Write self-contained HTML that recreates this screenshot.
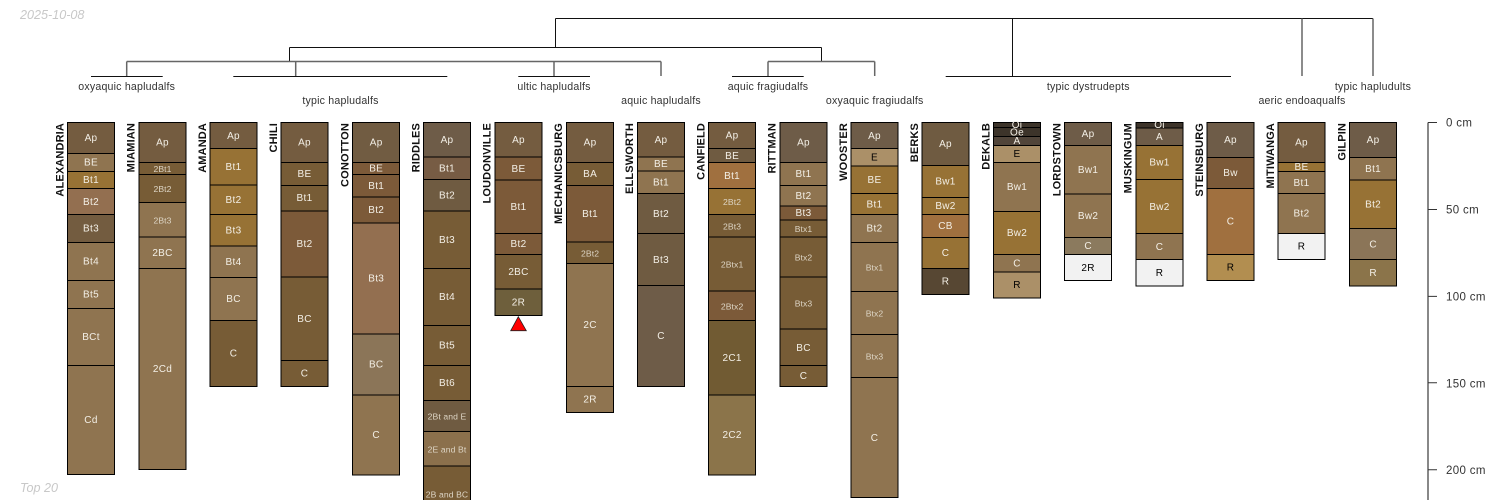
<!DOCTYPE html>
<html><head><meta charset="utf-8"><style>
html,body{margin:0;padding:0;background:#fff;width:1500px;height:500px;overflow:hidden}
svg{display:block;font-family:"Liberation Sans",sans-serif}
.p rect{stroke:#000;stroke-width:1;shape-rendering:crispEdges}
.p text{font-size:10px;letter-spacing:.3px;fill:#f3efe6;text-anchor:middle;dominant-baseline:central;transform:translateY(.7px)}
.p text.s{font-size:8.6px;letter-spacing:.1px;fill:#ddd5c5}
.p text.k{fill:#000}
.n{font-size:11px;font-weight:bold;fill:#111;text-anchor:end;letter-spacing:.15px}
.d{font-size:10.6px;letter-spacing:.2px;fill:#333;text-anchor:middle}
.a{font-size:11.5px;letter-spacing:.35px;fill:#333}
.i{font-size:12.6px;font-style:italic;fill:#c8c8c8}
.l{stroke:#111;stroke-width:1;fill:none}
.g{stroke:#666;stroke-width:1.5;fill:none}
</style></head><body>
<svg width="1500" height="500" viewBox="0 0 1500 500" xmlns="http://www.w3.org/2000/svg">
<text class="i" x="20" y="19">2025-10-08</text>
<text class="i" x="20" y="492">Top 20</text>

<path class="l" d="M555.5 18.5H1373M555.5 18.5V47M1012.5 18.5V76M289.5 47.5H821.5M289.5 47.5V61M821.5 47.5V61M91 76.5H162.7M233.3 76.5H447.3M518.3 76.5H590M732 76.5H803.7M945.7 76.5H1231"/>
<path class="g" d="M126.7 61.5H661M126.7 61.5V76M295.7 61.5V76M554 61.5V76M661 61.5V76M768 61.5H874.7M768 61.5V76M874.7 61.5V76M1302 18.5V76M1373 18.5V76"/>

<text class="d" x="126.7" y="90">oxyaquic hapludalfs</text>
<text class="d" x="340.5" y="104">typic hapludalfs</text>
<text class="d" x="554" y="90">ultic hapludalfs</text>
<text class="d" x="661" y="104">aquic hapludalfs</text>
<text class="d" x="768" y="90">aquic fragiudalfs</text>
<text class="d" x="874.7" y="104">oxyaquic fragiudalfs</text>
<text class="d" x="1088.3" y="90">typic dystrudepts</text>
<text class="d" x="1302" y="104">aeric endoaqualfs</text>
<text class="d" x="1373" y="90">typic hapludults</text>

<g class="p" transform="translate(67.5 0)">
<rect width="47" y="122.5" height="31.2" fill="#745c40"/><rect width="47" y="153.7" height="17.6" fill="#8f7450"/><rect width="47" y="171.3" height="17.4" fill="#977235"/><rect width="47" y="188.7" height="26" fill="#936f50"/><rect width="47" y="214.7" height="27.6" fill="#735c40"/><rect width="47" y="242.3" height="38.4" fill="#8f7450"/><rect width="47" y="280.7" height="27.6" fill="#8f7450"/><rect width="47" y="308.3" height="57" fill="#8f7450"/><rect width="47" y="365.3" height="109.4" fill="#8f7450"/>
<text x="23.5" y="138">Ap</text><text x="23.5" y="162.5">BE</text><text x="23.5" y="180">Bt1</text><text x="23.5" y="201.7">Bt2</text><text x="23.5" y="228.5">Bt3</text><text x="23.5" y="261.5">Bt4</text><text x="23.5" y="294.5">Bt5</text><text x="23.5" y="336.8">BCt</text><text x="23.5" y="420">Cd</text>
</g>
<g class="p" transform="translate(139 0)">
<rect width="47" y="122.5" height="39.8" fill="#745c40"/><rect width="47" y="162.3" height="12.4" fill="#775c36"/><rect width="47" y="174.7" height="27.6" fill="#775c36"/><rect width="47" y="202.3" height="34.7" fill="#8f7450"/><rect width="47" y="237" height="31.3" fill="#8f7450"/><rect width="47" y="268.3" height="201.4" fill="#8f7450"/>
<text x="23.5" y="142.4">Ap</text><text class="s" x="23.5" y="168.5">2Bt1</text><text class="s" x="23.5" y="188.5">2Bt2</text><text class="s" x="23.5" y="219.6">2Bt3</text><text x="23.5" y="252.6">2BC</text><text x="23.5" y="369">2Cd</text>
</g>
<g class="p" transform="translate(210 0)">
<rect width="47" y="122.5" height="26.2" fill="#745c40"/><rect width="47" y="148.7" height="36.3" fill="#977235"/><rect width="47" y="185" height="29.7" fill="#977235"/><rect width="47" y="214.7" height="31.3" fill="#977235"/><rect width="47" y="246" height="31.3" fill="#8f7450"/><rect width="47" y="277.3" height="43" fill="#8f7450"/><rect width="47" y="320.3" height="66" fill="#775c36"/>
<text x="23.5" y="135.6">Ap</text><text x="23.5" y="166.8">Bt1</text><text x="23.5" y="199.8">Bt2</text><text x="23.5" y="230.3">Bt3</text><text x="23.5" y="261.6">Bt4</text><text x="23.5" y="298.8">BC</text><text x="23.5" y="353.3">C</text>
</g>
<g class="p" transform="translate(281 0)">
<rect width="47" y="122.5" height="39.8" fill="#745c40"/><rect width="47" y="162.3" height="23" fill="#775c36"/><rect width="47" y="185.3" height="25.7" fill="#775c36"/><rect width="47" y="211" height="66" fill="#7c5a39"/><rect width="47" y="277" height="83.3" fill="#775c36"/><rect width="47" y="360.3" height="26" fill="#775c36"/>
<text x="23.5" y="142.4">Ap</text><text x="23.5" y="173.8">BE</text><text x="23.5" y="198">Bt1</text><text x="23.5" y="244">Bt2</text><text x="23.5" y="318.6">BC</text><text x="23.5" y="373.3">C</text>
</g>
<g class="p" transform="translate(352.7 0)">
<rect width="47" y="122.5" height="39.8" fill="#715c42"/><rect width="47" y="162.3" height="12" fill="#7c5a39"/><rect width="47" y="174.3" height="22.7" fill="#7c5a39"/><rect width="47" y="197" height="26" fill="#7c5a39"/><rect width="47" y="223" height="111" fill="#936f50"/><rect width="47" y="334" height="61" fill="#8b7558"/><rect width="47" y="395" height="80" fill="#8f7450"/>
<text x="23.5" y="142.4">Ap</text><text x="23.5" y="168.3">BE</text><text x="23.5" y="185.6">Bt1</text><text x="23.5" y="210">Bt2</text><text x="23.5" y="278.5">Bt3</text><text x="23.5" y="364.5">BC</text><text x="23.5" y="435">C</text>
</g>
<g class="p" transform="translate(423.5 0)">
<rect width="47" y="122.5" height="34.5" fill="#6e5c48"/><rect width="47" y="157" height="22.7" fill="#775c44"/><rect width="47" y="179.7" height="31.3" fill="#6f5b41"/><rect width="47" y="211" height="57.3" fill="#775c36"/><rect width="47" y="268.3" height="57" fill="#775c36"/><rect width="47" y="325.3" height="40" fill="#775c36"/><rect width="47" y="365.3" height="35" fill="#775c36"/><rect width="47" y="400.3" height="31.4" fill="#6f5b41"/><rect width="47" y="431.7" height="34.3" fill="#8b704c"/><rect width="47" y="466" height="44" fill="#775c36"/>
<text x="23.5" y="140">Ap</text><text x="23.5" y="168.3">Bt1</text><text x="23.5" y="195.3">Bt2</text><text x="23.5" y="239.6">Bt3</text><text x="23.5" y="297">Bt4</text><text x="23.5" y="345.3">Bt5</text><text x="23.5" y="382.8">Bt6</text><text class="s" x="23.5" y="416">2Bt and E</text><text class="s" x="23.5" y="449">2E and Bt</text><text class="s" x="23.5" y="493.7">2B and BC</text>
</g>
<g class="p" transform="translate(495 0)">
<rect width="47" y="122.5" height="34.5" fill="#745c40"/><rect width="47" y="157" height="23" fill="#7c5a39"/><rect width="47" y="180" height="53.3" fill="#7c5a39"/><rect width="47" y="233.3" height="21" fill="#7c5a39"/><rect width="47" y="254.3" height="34.7" fill="#775c36"/><rect width="47" y="289" height="26.3" fill="#6e5f3c"/>
<text x="23.5" y="140">Ap</text><text x="23.5" y="168.8">BE</text><text x="23.5" y="206.8">Bt1</text><text x="23.5" y="244">Bt2</text><text x="23.5" y="271.8">2BC</text><text x="23.5" y="302.3">2R</text>
</g>
<polygon points="518.3,316.7 526.3,330.7 510.7,330.7" fill="#f00" stroke="#222" stroke-width="0.8"/>
<g class="p" transform="translate(566.6 0)">
<rect width="47" y="122.5" height="39.8" fill="#745c40"/><rect width="47" y="162.3" height="23" fill="#775c36"/><rect width="47" y="185.3" height="56.7" fill="#7c5a39"/><rect width="47" y="242" height="21.3" fill="#775c36"/><rect width="47" y="263.3" height="123" fill="#8f7450"/><rect width="47" y="386.3" height="26" fill="#8f7450"/>
<text x="23.5" y="142.4">Ap</text><text x="23.5" y="173.8">BA</text><text x="23.5" y="213.6">Bt1</text><text class="s" x="23.5" y="252.6">2Bt2</text><text x="23.5" y="324.8">2C</text><text x="23.5" y="399.3">2R</text>
</g>
<g class="p" transform="translate(637.5 0)">
<rect width="47" y="122.5" height="34.5" fill="#745c40"/><rect width="47" y="157" height="14" fill="#8f7450"/><rect width="47" y="171" height="22.7" fill="#8f7450"/><rect width="47" y="193.7" height="40" fill="#6f5b41"/><rect width="47" y="233.7" height="52" fill="#6f5b41"/><rect width="47" y="285.7" height="100.6" fill="#6e5c48"/>
<text x="23.5" y="140">Ap</text><text x="23.5" y="164">BE</text><text x="23.5" y="182.4">Bt1</text><text x="23.5" y="213.7">Bt2</text><text x="23.5" y="259.7">Bt3</text><text x="23.5" y="336">C</text>
</g>
<g class="p" transform="translate(708.6 0)">
<rect width="47" y="122.5" height="25.8" fill="#745c40"/><rect width="47" y="148.3" height="14" fill="#6f5b41"/><rect width="47" y="162.3" height="26" fill="#a0703f"/><rect width="47" y="188.3" height="26" fill="#977235"/><rect width="47" y="214.3" height="22.7" fill="#775c36"/><rect width="47" y="237" height="54" fill="#775c36"/><rect width="47" y="291" height="29.3" fill="#7c5a39"/><rect width="47" y="320.3" height="74.7" fill="#715b33"/><rect width="47" y="395" height="80" fill="#8b744a"/>
<text x="23.5" y="135.4">Ap</text><text x="23.5" y="155.8">BE</text><text x="23.5" y="175.8">Bt1</text><text class="s" x="23.5" y="201.3">2Bt2</text><text class="s" x="23.5" y="225.6">2Bt3</text><text class="s" x="23.5" y="264">2Btx1</text><text class="s" x="23.5" y="305.6">2Btx2</text><text x="23.5" y="358">2C1</text><text x="23.5" y="435">2C2</text>
</g>
<g class="p" transform="translate(780 0)">
<rect width="47" y="122.5" height="39.8" fill="#6e5c48"/><rect width="47" y="162.3" height="23" fill="#8f7450"/><rect width="47" y="185.3" height="20.7" fill="#8f7450"/><rect width="47" y="206" height="14" fill="#7c5a39"/><rect width="47" y="220" height="17" fill="#775c36"/><rect width="47" y="237" height="40" fill="#775c36"/><rect width="47" y="277" height="52" fill="#775c36"/><rect width="47" y="329" height="36.3" fill="#775c36"/><rect width="47" y="365.3" height="21" fill="#775c36"/>
<text x="23.5" y="142.4">Ap</text><text x="23.5" y="173.8">Bt1</text><text x="23.5" y="195.6">Bt2</text><text x="23.5" y="213">Bt3</text><text class="s" x="23.5" y="228.5">Btx1</text><text class="s" x="23.5" y="257">Btx2</text><text class="s" x="23.5" y="303">Btx3</text><text x="23.5" y="347.6">BC</text><text x="23.5" y="375.8">C</text>
</g>
<g class="p" transform="translate(851 0)">
<rect width="47" y="122.5" height="26.2" fill="#6e5c48"/><rect width="47" y="148.7" height="17.3" fill="#ab9068"/><rect width="47" y="166" height="27.7" fill="#977235"/><rect width="47" y="193.7" height="21" fill="#977235"/><rect width="47" y="214.7" height="27.6" fill="#8f7450"/><rect width="47" y="242.3" height="49" fill="#8f7450"/><rect width="47" y="291.3" height="43" fill="#8f7450"/><rect width="47" y="334.3" height="43.4" fill="#8f7450"/><rect width="47" y="377.7" height="120" fill="#8f7450"/>
<text x="23.5" y="135.6">Ap</text><text class="k" x="23.5" y="157.3">E</text><text x="23.5" y="179.8">BE</text><text x="23.5" y="204.2">Bt1</text><text x="23.5" y="228.5">Bt2</text><text class="s" x="23.5" y="266.8">Btx1</text><text class="s" x="23.5" y="312.8">Btx2</text><text class="s" x="23.5" y="356">Btx3</text><text x="23.5" y="437.7">C</text>
</g>
<g class="p" transform="translate(922 0)">
<rect width="47" y="122.3" height="43.4" fill="#6f5b41"/><rect width="47" y="165.7" height="31.6" fill="#977235"/><rect width="47" y="197.3" height="17.4" fill="#977235"/><rect width="47" y="214.7" height="22.6" fill="#a0703f"/><rect width="47" y="237.3" height="31" fill="#977235"/><rect width="47" y="268.3" height="26" fill="#574733"/>
<text x="23.5" y="144">Ap</text><text x="23.5" y="181.5">Bw1</text><text x="23.5" y="206">Bw2</text><text x="23.5" y="226">CB</text><text x="23.5" y="252.8">C</text><text x="23.5" y="281.3">R</text>
</g>
<g class="p" transform="translate(993.5 0)">
<rect width="47" y="122.3" height="5.4" fill="#3d342a"/><rect width="47" y="127.7" height="9" fill="#3d342a"/><rect width="47" y="136.7" height="8.6" fill="#51453a"/><rect width="47" y="145.3" height="17" fill="#ab9068"/><rect width="47" y="162.3" height="49" fill="#8f7450"/><rect width="47" y="211.3" height="43.4" fill="#977235"/><rect width="47" y="254.7" height="17.3" fill="#8f7450"/><rect width="47" y="272" height="26" fill="#ab9068"/>
<text x="23.5" y="125">Oi</text><text x="23.5" y="132.2">Oe</text><text x="23.5" y="141">A</text><text class="k" x="23.5" y="153.8">E</text><text x="23.5" y="186.8">Bw1</text><text x="23.5" y="233">Bw2</text><text x="23.5" y="263.3">C</text><text class="k" x="23.5" y="285">R</text>
</g>
<g class="p" transform="translate(1064.6 0)">
<rect width="47" y="122.3" height="23" fill="#6e5c48"/><rect width="47" y="145.3" height="48.7" fill="#8f7450"/><rect width="47" y="194" height="43.3" fill="#8f7450"/><rect width="47" y="237.3" height="17.4" fill="#8b7a5e"/><rect width="47" y="254.7" height="26" fill="#f2f2f2"/>
<text x="23.5" y="134">Ap</text><text x="23.5" y="169.7">Bw1</text><text x="23.5" y="215.7">Bw2</text><text x="23.5" y="246">C</text><text class="k" x="23.5" y="267.7">2R</text>
</g>
<g class="p" transform="translate(1136 0)">
<rect width="47" y="122.3" height="5.7" fill="#3d342a"/><rect width="47" y="128" height="17.3" fill="#6e5c48"/><rect width="47" y="145.3" height="34.4" fill="#977235"/><rect width="47" y="179.7" height="54" fill="#977235"/><rect width="47" y="233.7" height="26" fill="#8f7450"/><rect width="47" y="259.7" height="26.3" fill="#f2f2f2"/>
<text x="23.5" y="125">Oi</text><text x="23.5" y="136.7">A</text><text x="23.5" y="162.5">Bw1</text><text x="23.5" y="206.7">Bw2</text><text x="23.5" y="246.7">C</text><text class="k" x="23.5" y="272.8">R</text>
</g>
<g class="p" transform="translate(1207 0)">
<rect width="47" y="122.3" height="35" fill="#6e5c48"/><rect width="47" y="157.3" height="31" fill="#7c5a39"/><rect width="47" y="188.3" height="66" fill="#a0703f"/><rect width="47" y="254.3" height="26" fill="#b28e50"/>
<text x="23.5" y="140">Ap</text><text x="23.5" y="173">Bw</text><text x="23.5" y="221.3">C</text><text class="k" x="23.5" y="267.3">R</text>
</g>
<g class="p" transform="translate(1278 0)">
<rect width="47" y="122.3" height="40" fill="#745c40"/><rect width="47" y="162.3" height="9" fill="#977235"/><rect width="47" y="171.3" height="22.4" fill="#8f7450"/><rect width="47" y="193.7" height="39.6" fill="#8f7450"/><rect width="47" y="233.3" height="26.4" fill="#f2f2f2"/>
<text x="23.5" y="142.3">Ap</text><text x="23.5" y="167">BE</text><text x="23.5" y="183">Bt1</text><text x="23.5" y="213.5">Bt2</text><text class="k" x="23.5" y="246.5">R</text>
</g>
<g class="p" transform="translate(1349.6 0)">
<rect width="47" y="122.3" height="35" fill="#6e5c48"/><rect width="47" y="157.3" height="22.7" fill="#8f7450"/><rect width="47" y="180" height="48.7" fill="#977235"/><rect width="47" y="228.7" height="31" fill="#8b7558"/><rect width="47" y="259.7" height="26.3" fill="#8b744a"/>
<text x="23.5" y="140">Ap</text><text x="23.5" y="168.6">Bt1</text><text x="23.5" y="204.3">Bt2</text><text x="23.5" y="244.2">C</text><text x="23.5" y="272.8">R</text>
</g>

<text class="n" transform="translate(63.5 123) rotate(-90)">ALEXANDRIA</text>
<text class="n" transform="translate(134.7 123) rotate(-90)">MIAMIAN</text>
<text class="n" transform="translate(205.9 123) rotate(-90)">AMANDA</text>
<text class="n" transform="translate(277 123) rotate(-90)">CHILI</text>
<text class="n" transform="translate(348.3 123) rotate(-90)">CONOTTON</text>
<text class="n" transform="translate(419.5 123) rotate(-90)">RIDDLES</text>
<text class="n" transform="translate(490.7 123) rotate(-90)">LOUDONVILLE</text>
<text class="n" transform="translate(562 123) rotate(-90)">MECHANICSBURG</text>
<text class="n" transform="translate(633.2 123) rotate(-90)">ELLSWORTH</text>
<text class="n" transform="translate(704.4 123) rotate(-90)">CANFIELD</text>
<text class="n" transform="translate(775.6 123) rotate(-90)">RITTMAN</text>
<text class="n" transform="translate(846.8 123) rotate(-90)">WOOSTER</text>
<text class="n" transform="translate(918 123) rotate(-90)">BERKS</text>
<text class="n" transform="translate(989.3 123) rotate(-90)">DEKALB</text>
<text class="n" transform="translate(1060.5 123) rotate(-90)">LORDSTOWN</text>
<text class="n" transform="translate(1131.7 123) rotate(-90)">MUSKINGUM</text>
<text class="n" transform="translate(1203 123) rotate(-90)">STEINSBURG</text>
<text class="n" transform="translate(1274 123) rotate(-90)">MITIWANGA</text>
<text class="n" transform="translate(1345.3 123) rotate(-90)">GILPIN</text>

<path d="M1428 122.5V500" stroke="#888" stroke-width="2" fill="none"/>
<path d="M1428 122.5H1437M1428 209.5H1437M1428 296.4H1437M1428 382.8H1437M1428 469.7H1437" stroke="#333" stroke-width="1" fill="none"/>
<text class="a" x="1446" y="126.5">0 cm</text>
<text class="a" x="1446" y="213.5">50 cm</text>
<text class="a" x="1446" y="300.5">100 cm</text>
<text class="a" x="1446" y="387.5">150 cm</text>
<text class="a" x="1446" y="474">200 cm</text>
</svg>
</body></html>
